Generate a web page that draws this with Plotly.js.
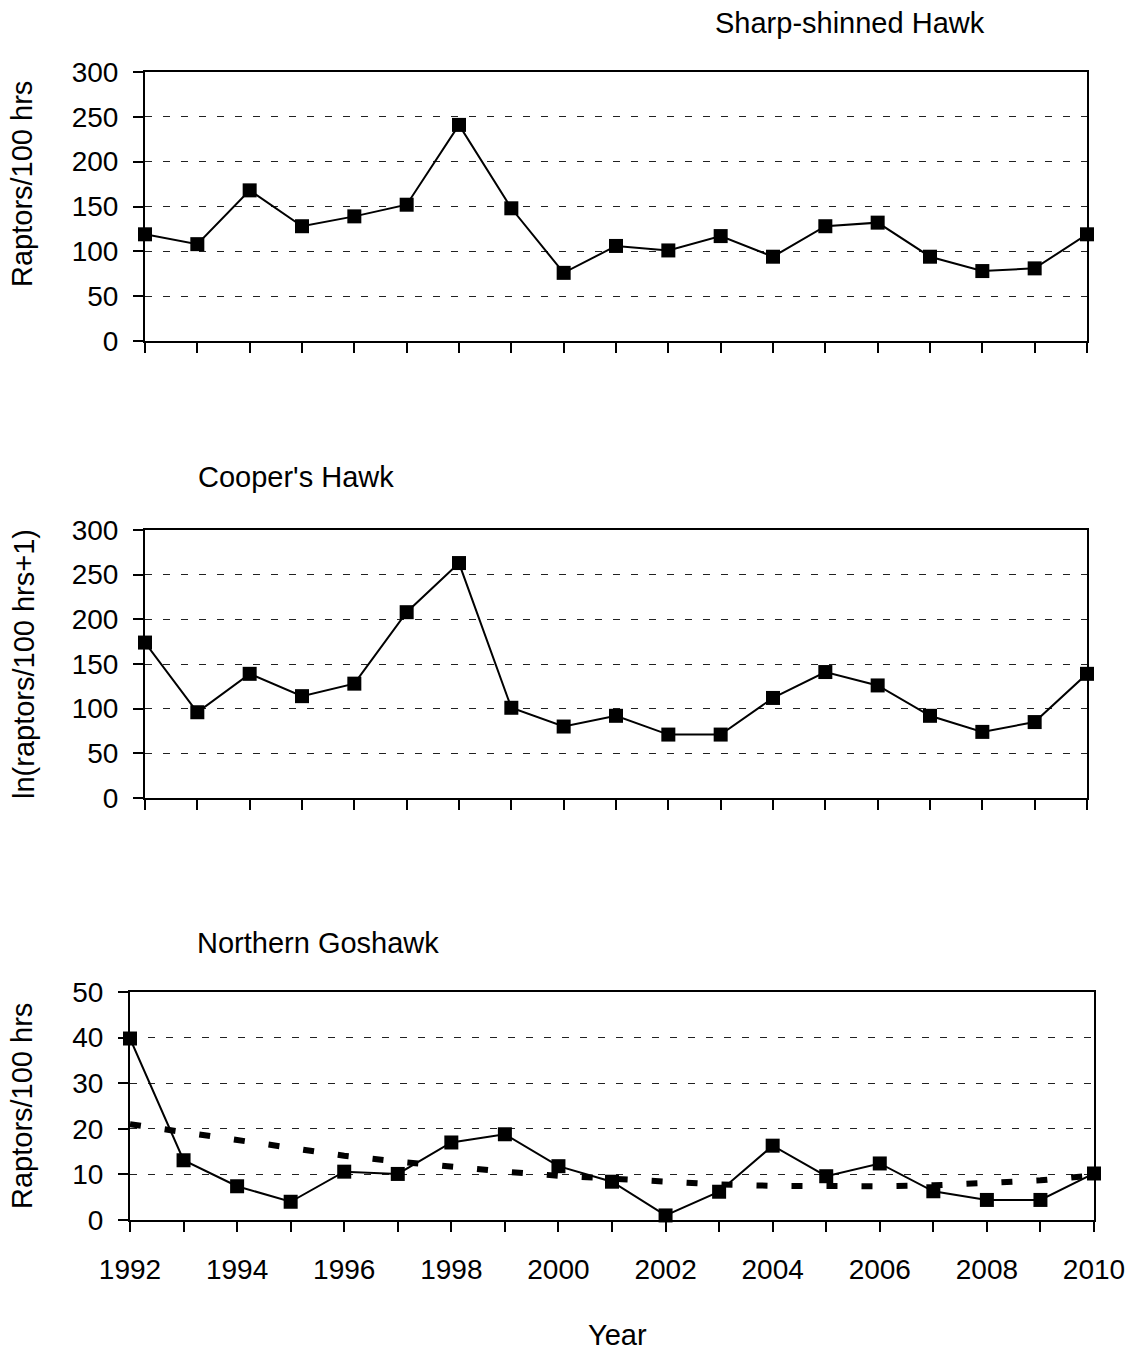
<!DOCTYPE html>
<html>
<head>
<meta charset="utf-8">
<script src="https://cdn.plot.ly/plotly-3.0.1.min.js"></script>
<style>html,body{margin:0;padding:0;background:#fff;}#chart{width:1131px;height:1351px;}</style>
</head>
<body>
<div id="chart"></div>
<script>
const years = [1992,1993,1994,1995,1996,1997,1998,1999,2000,2001,2002,2003,2004,2005,2006,2007,2008,2009,2010];
const sharpShinned = [119,108,168,128,139,152,241,148,76,106,101,117,94,128,132,94,78,81,119];
const coopers = [174,96,139,114,128,208,263,101,80,92,71,71,112,141,126,92,74,85,139];
const goshawk = [39.8,13.1,7.4,4.0,10.6,10.1,17.0,18.8,11.8,8.4,1.0,6.2,16.3,9.6,12.4,6.3,4.4,4.4,10.2];
const goshawkTrend = [21.0,19.3,17.4,15.6,14.1,12.8,11.6,10.6,9.7,9.0,8.3,7.8,7.5,7.4,7.4,7.6,8.1,8.7,9.8];
const bottomTickText = ["1992","","1994","","1996","","1998","","2000","","2002","","2004","","2006","","2008","","2010"];
const titles = ["Sharp-shinned Hawk","Cooper's Hawk","Northern Goshawk"];
const yTitles = ["Raptors/100 hrs","ln(raptors/100 hrs+1)","Raptors/100 hrs"];

const W = 1131, H = 1351;
const FONT = "Liberation Sans, Arial, sans-serif";
const px = v => v / W;
const py = v => 1 - v / H;

const lineStyle = {color:'#000', width:2};
const markerStyle = {symbol:'square', size:14, color:'#000'};

const traces = [
  {x:years, y:sharpShinned, xaxis:'x', yaxis:'y', mode:'lines+markers', line:lineStyle, marker:markerStyle, cliponaxis:false},
  {x:years, y:coopers, xaxis:'x2', yaxis:'y2', mode:'lines+markers', line:lineStyle, marker:markerStyle, cliponaxis:false},
  {x:years, y:goshawkTrend, xaxis:'x3', yaxis:'y3', mode:'lines', line:{color:'#000', width:6, dash:'11px,24px'}, cliponaxis:false},
  {x:years, y:goshawk, xaxis:'x3', yaxis:'y3', mode:'lines+markers', line:lineStyle, marker:markerStyle, cliponaxis:false}
];

function xax(domain, anchor, labels){
  return {
    domain: domain, anchor: anchor, range:[1992,2010],
    tickmode:'array', tickvals: years, ticktext: labels ? bottomTickText : years.map(()=>''),
    ticks:'outside', ticklen:10, tickwidth:2, tickcolor:'#000',
    showline:true, linewidth:2, linecolor:'#000', mirror:true,
    showgrid:false, zeroline:false, ticklabelstandoff: labels ? 13 : 0,
    tickfont:{family:FONT, size:28, color:'#000'}
  };
}
function yax(domain, anchor, max, dtick){
  return {
    domain: domain, anchor: anchor, range:[0,max], dtick:dtick, tick0:0,
    ticks:'outside', ticklen:10, tickwidth:2, tickcolor:'#000',
    showline:true, linewidth:2, linecolor:'#000', mirror:true,
    showgrid:true, gridcolor:'#222', gridwidth:1, griddash:'7px,11px',
    zeroline:false, ticklabelstandoff:9,
    tickfont:{family:FONT, size:28, color:'#000'}
  };
}

const layout = {
  width: W, height: H,
  margin:{l:0,r:0,t:0,b:0},
  paper_bgcolor:'#fff', plot_bgcolor:'#fff',
  showlegend:false,
  font:{family:FONT, color:'#000'},
  xaxis: xax([px(145), px(1087)], 'y', false),
  yaxis: yax([py(341), py(72)], 'x', 300, 50),
  xaxis2: xax([px(145), px(1087)], 'y2', false),
  yaxis2: yax([py(798), py(530)], 'x2', 300, 50),
  xaxis3: xax([px(130), px(1094)], 'y3', true),
  yaxis3: yax([py(1220), py(992)], 'x3', 50, 10),
  annotations: [
    {text:titles[0], x:px(850), y:py(23), xref:'paper', yref:'paper', showarrow:false, font:{family:FONT,size:29}, xanchor:'center', yanchor:'middle'},
    {text:titles[1], x:px(296), y:py(477), xref:'paper', yref:'paper', showarrow:false, font:{family:FONT,size:29}, xanchor:'center', yanchor:'middle'},
    {text:titles[2], x:px(318), y:py(943), xref:'paper', yref:'paper', showarrow:false, font:{family:FONT,size:29}, xanchor:'center', yanchor:'middle'},
    {text:yTitles[0], x:px(22), y:py(184), xref:'paper', yref:'paper', showarrow:false, textangle:-90, font:{family:FONT,size:29}, xanchor:'center', yanchor:'middle'},
    {text:yTitles[1], x:px(24), y:py(664), xref:'paper', yref:'paper', showarrow:false, textangle:-90, font:{family:FONT,size:29}, xanchor:'center', yanchor:'middle'},
    {text:yTitles[2], x:px(22), y:py(1106), xref:'paper', yref:'paper', showarrow:false, textangle:-90, font:{family:FONT,size:29}, xanchor:'center', yanchor:'middle'},
    {text:'Year', x:px(617), y:py(1335), xref:'paper', yref:'paper', showarrow:false, font:{family:FONT,size:29}, xanchor:'center', yanchor:'middle'}
  ]
};

Plotly.newPlot('chart', traces, layout, {staticPlot:true, displayModeBar:false});
</script>
</body>
</html>
